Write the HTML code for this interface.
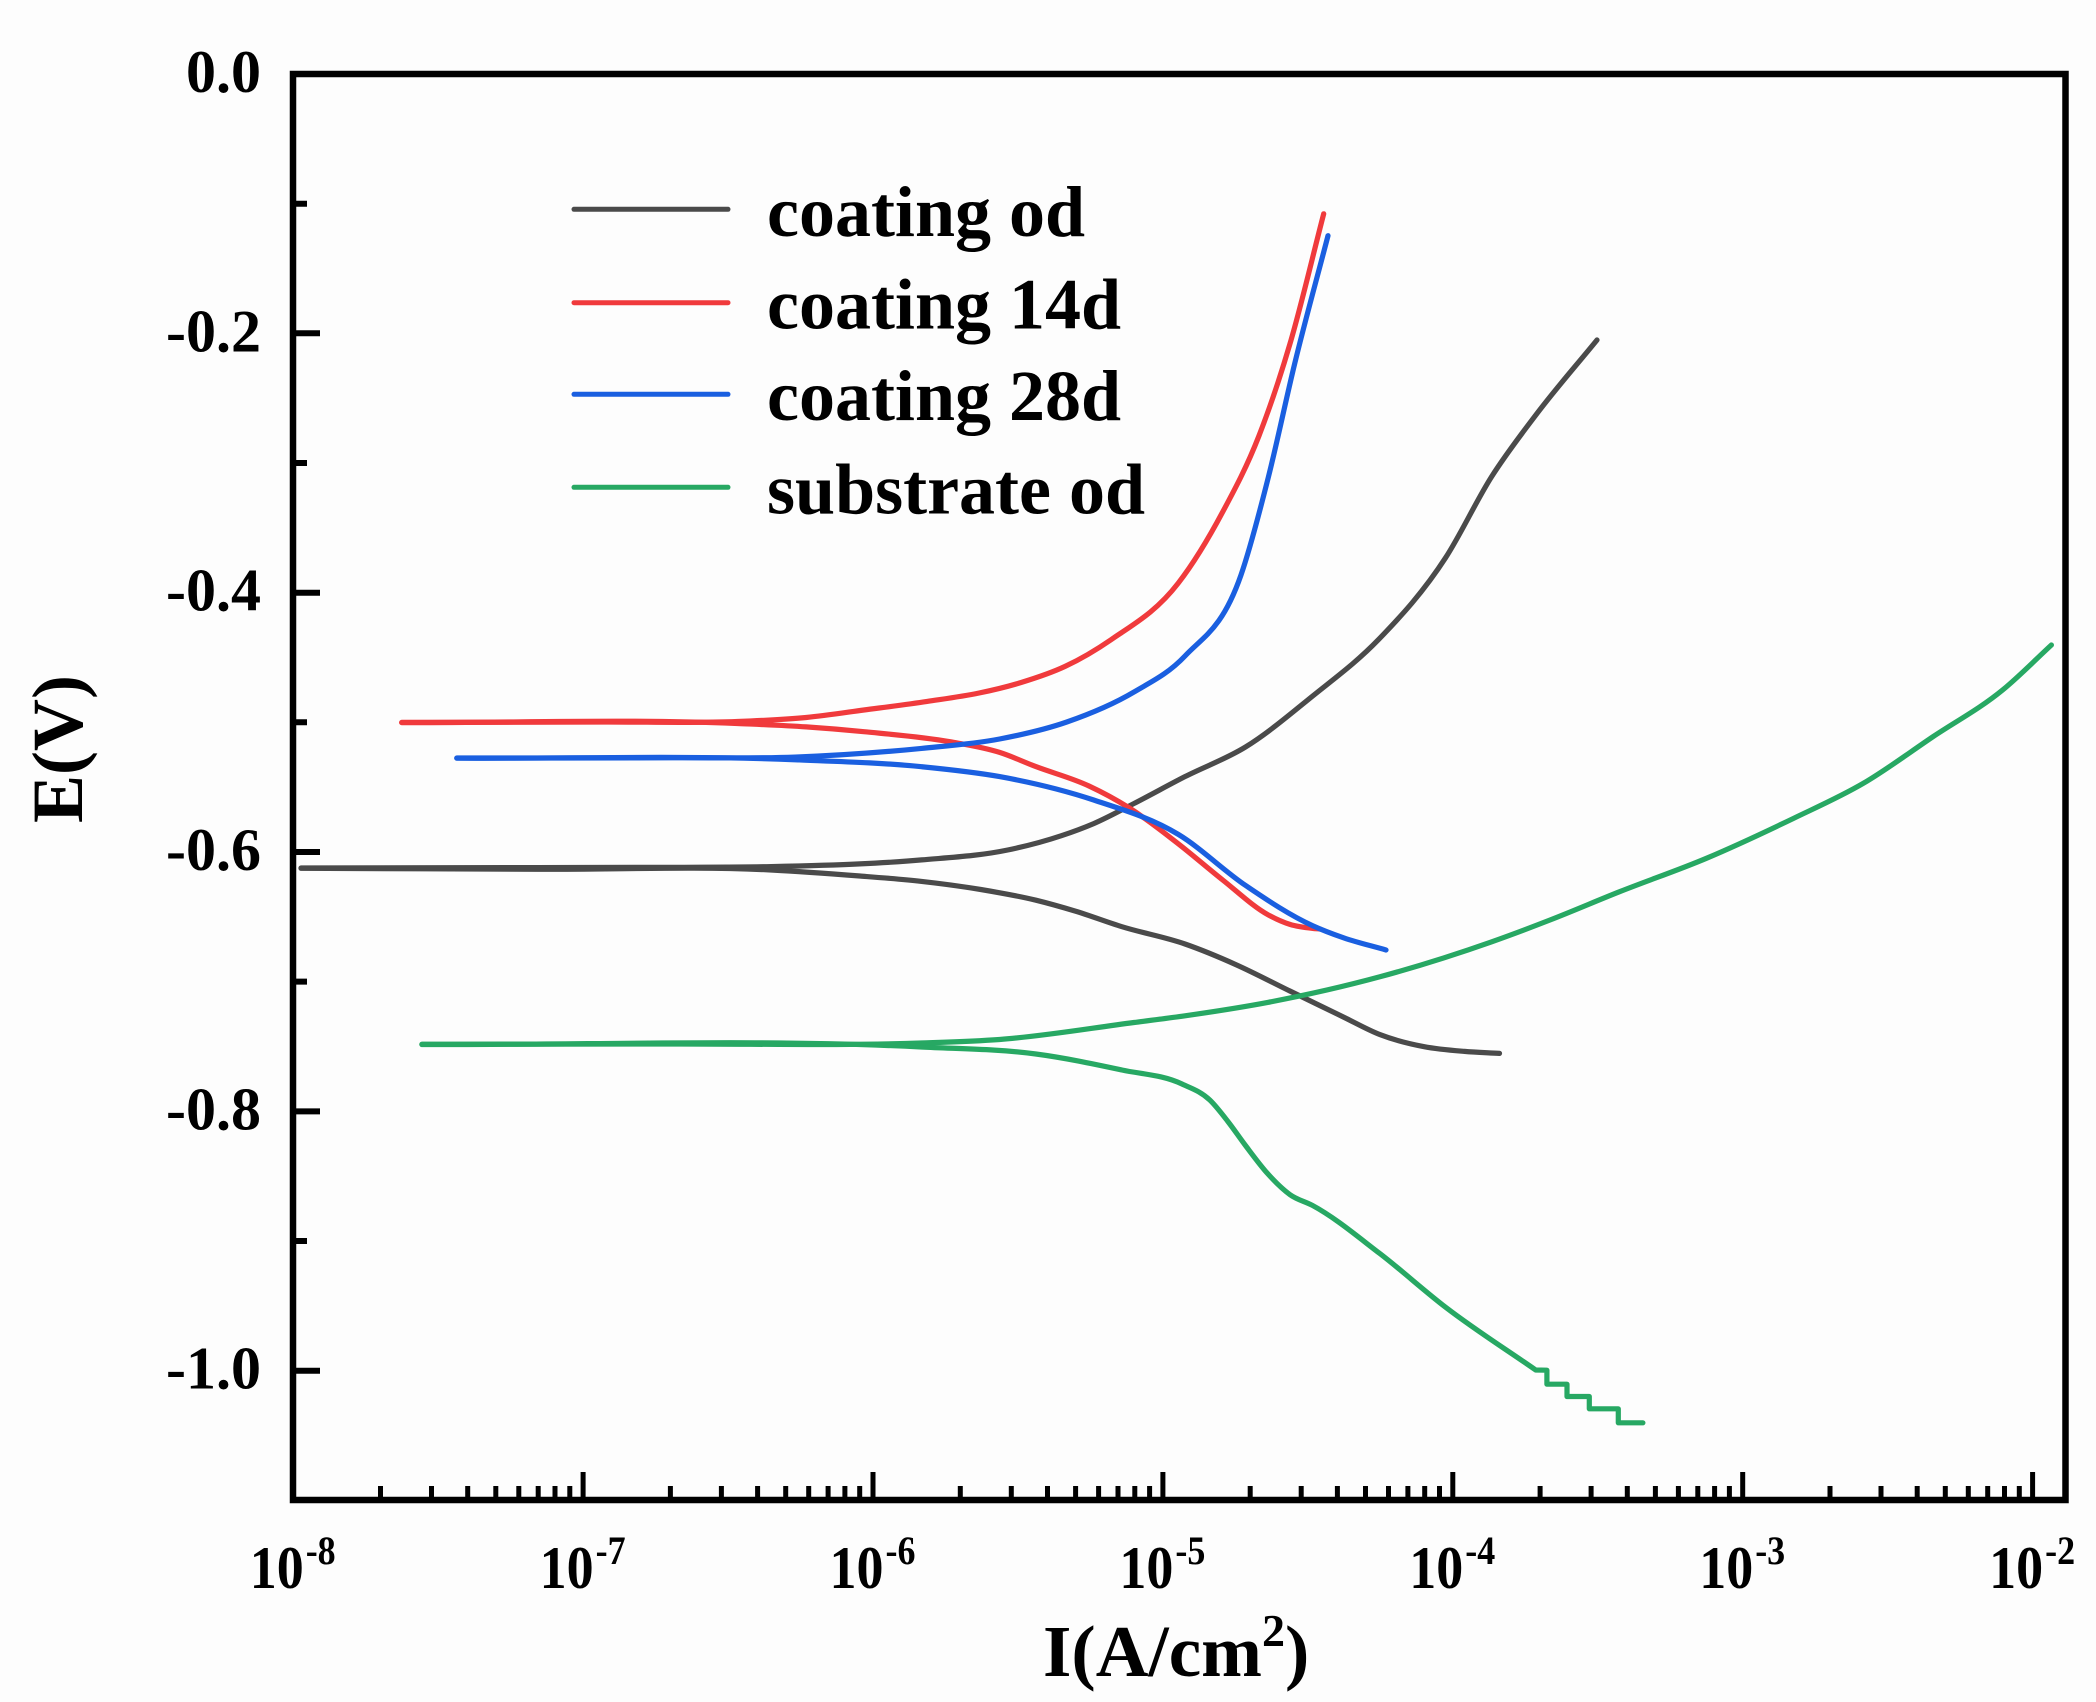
<!DOCTYPE html>
<html>
<head>
<meta charset="utf-8">
<style>
  html, body { margin: 0; padding: 0; background: #fdfdfd; }
  svg { display: block; }
  text { font-family: "Liberation Serif", "Times New Roman", serif; font-weight: bold; fill: #000; }
</style>
</head>
<body>
<svg width="2096" height="1702" viewBox="0 0 2096 1702" xmlns="http://www.w3.org/2000/svg">
  <rect x="0" y="0" width="2096" height="1702" fill="#fdfdfd"/>

  <!-- Series -->
  <g fill="none" stroke-width="5.2" stroke-linejoin="round" stroke-linecap="round">
    <path id="gc" stroke="#4a4a4a" d="M301,868.3 L537.4,869.3 771.2,870 859.9,876 921.7,881.4 980.8,889.5 1035.9,900.2 1074.9,911 1121.9,926.7 1185,944 1236.1,964.7 1289.9,991 1343.6,1017.1 1379.9,1034.6 1424.2,1046.7 1464.5,1051.4 1499.5,1053.4"/>
    <path id="ga" stroke="#4a4a4a" d="M301,868 L537.4,867.6 671.8,867.3 771.2,866.6 859.9,863.9 921.7,859.9 1007.7,850 1061.4,835.7 1093.7,823.6 1134,803.5 1185,776.6 1245.5,747 1312.7,696 1378.5,639.6 1445.7,557.6 1491.4,477 1535.7,415.2 1597,340"/>
    <path id="rc" stroke="#f03a3c" d="M401.7,722.6 L737.6,723.5 806.2,726.9 863.9,731.7 949.9,741.7 999.6,752.4 1035.9,766.6 1089,786 1128.6,807.5 1178.3,843.8 1222.7,880 1268.4,915 1289.9,924.4 1312.7,928.4 1320,929"/>
    <path id="ra" stroke="#f03a3c" d="M401.7,722.4 L604.6,722 737.6,721.5 806.2,717.5 863.9,710 927.1,701.4 979.1,693 1021.1,682.5 1065.1,666.4 1111.2,639.6 1178.3,583.1 1222.7,511.9 1258.9,436 1289.9,344 1323.7,213.8"/>
    <path id="bc" stroke="#1a5fe0" d="M456.8,758.2 L795,759.8 921.5,766.7 999.6,776.6 1093.7,800 1178.3,834.4 1245.5,885.4 1312.7,925.7 1343.6,937.8 1386,950"/>
    <path id="ba" stroke="#1a5fe0" d="M456.8,758 L671.8,757.8 795,757.1 921.5,748.4 999.6,739 1066.8,722 1134,692 1185,656 1241,575 1268.4,477 1294.6,364 1328,235.7"/>
    <path id="sc" stroke="#27a863" d="M421.9,1044.5 L921.5,1047 1035.9,1054 1121.9,1070 1182,1084 1209.8,1100 1227.6,1121.1 1245.5,1145.5 1267.8,1173.8 1290.1,1194.7 1312.4,1205.4 1379.9,1253.6 1445.7,1307.3 1535.7,1370 L1546.9,1370.2 1546.9,1384.2 1567,1384.2 1567,1396.5 1589.3,1396.5 1589.3,1408.8 1618.3,1408.8 1618.3,1422.8 1642.9,1422.8"/>
    <path id="sa" stroke="#27a863" d="M421.9,1044.2 L671.8,1044 921.5,1043 999.6,1039.5 1134,1022.5 1185,1015.8 1268.4,1002.3 1379.9,976.8 1491.4,941.9 1550,920 1619.6,891.7 1706.4,858.3 1793.7,818.3 1863.4,783.3 1933,736.7 2002.6,690 2051.4,645"/>
  </g>

  <!-- Axes frame -->
  <rect x="293" y="74" width="1772.5" height="1426" fill="none" stroke="#000" stroke-width="6.5"/>

  <!-- Y ticks -->
  <g stroke="#000" stroke-width="6">
    <path d="M293,333.3H320 M293,592.7H320 M293,852H320 M293,1111.4H320 M293,1370.7H320"/>
    <path d="M293,203.7H307 M293,463H307 M293,722.3H307 M293,981.6H307 M293,1241H307"/>
  </g>

  <!-- X ticks -->
  <g stroke="#000" stroke-width="5">
    <path d="M583.1,1500V1472 M873,1500V1472 M1162.9,1500V1472 M1452.8,1500V1472 M1742.7,1500V1472 M2032.6,1500V1472"/>
    <path d="M380.5,1500V1486 M431.5,1500V1486 M467.7,1500V1486 M495.8,1500V1486 M518.8,1500V1486 M538.2,1500V1486 M555,1500V1486 M569.8,1500V1486
             M670.4,1500V1486 M721.4,1500V1486 M757.6,1500V1486 M785.7,1500V1486 M808.7,1500V1486 M828.1,1500V1486 M844.9,1500V1486 M859.7,1500V1486
             M960.3,1500V1486 M1011.3,1500V1486 M1047.5,1500V1486 M1075.6,1500V1486 M1098.6,1500V1486 M1118,1500V1486 M1134.8,1500V1486 M1149.6,1500V1486
             M1250.2,1500V1486 M1301.2,1500V1486 M1337.4,1500V1486 M1365.5,1500V1486 M1388.5,1500V1486 M1407.9,1500V1486 M1424.7,1500V1486 M1439.5,1500V1486
             M1540.1,1500V1486 M1591.1,1500V1486 M1627.3,1500V1486 M1655.4,1500V1486 M1678.4,1500V1486 M1697.8,1500V1486 M1714.6,1500V1486 M1729.4,1500V1486
             M1830,1500V1486 M1881,1500V1486 M1917.2,1500V1486 M1945.3,1500V1486 M1968.3,1500V1486 M1987.7,1500V1486 M2004.5,1500V1486 M2019.3,1500V1486"/>
  </g>

  <!-- Y tick labels -->
  <g font-size="60" text-anchor="end">
    <text x="261" y="92">0.0</text>
    <text x="261" y="351.3">-0.2</text>
    <text x="261" y="610.7">-0.4</text>
    <text x="261" y="870">-0.6</text>
    <text x="261" y="1129.4">-0.8</text>
    <text x="261" y="1388.7">-1.0</text>
  </g>

  <!-- X tick labels -->
  <g>
    <text x="249.7" y="1588" font-size="60" textLength="54" lengthAdjust="spacingAndGlyphs">10</text>
    <text x="305.7" y="1564" font-size="40" textLength="30" lengthAdjust="spacingAndGlyphs">-8</text>
    <text x="539.6" y="1588" font-size="60" textLength="54" lengthAdjust="spacingAndGlyphs">10</text>
    <text x="595.6" y="1564" font-size="40" textLength="30" lengthAdjust="spacingAndGlyphs">-7</text>
    <text x="829.5" y="1588" font-size="60" textLength="54" lengthAdjust="spacingAndGlyphs">10</text>
    <text x="885.5" y="1564" font-size="40" textLength="30" lengthAdjust="spacingAndGlyphs">-6</text>
    <text x="1119.4" y="1588" font-size="60" textLength="54" lengthAdjust="spacingAndGlyphs">10</text>
    <text x="1175.4" y="1564" font-size="40" textLength="30" lengthAdjust="spacingAndGlyphs">-5</text>
    <text x="1409.3" y="1588" font-size="60" textLength="54" lengthAdjust="spacingAndGlyphs">10</text>
    <text x="1465.3" y="1564" font-size="40" textLength="30" lengthAdjust="spacingAndGlyphs">-4</text>
    <text x="1699.2" y="1588" font-size="60" textLength="54" lengthAdjust="spacingAndGlyphs">10</text>
    <text x="1755.2" y="1564" font-size="40" textLength="30" lengthAdjust="spacingAndGlyphs">-3</text>
    <text x="1989.1" y="1588" font-size="60" textLength="54" lengthAdjust="spacingAndGlyphs">10</text>
    <text x="2045.1" y="1564" font-size="40" textLength="30" lengthAdjust="spacingAndGlyphs">-2</text>
  </g>

  <!-- Axis titles -->
  <text x="1043" y="1676" font-size="73">I(A/cm<tspan font-size="46" dy="-30">2</tspan><tspan font-size="73" dy="30">)</tspan></text>
  <text transform="translate(82,749) rotate(-90)" text-anchor="middle" font-size="72">E(V)</text>

  <!-- Legend -->
  <g stroke-width="5" stroke-linecap="round">
    <line x1="574" y1="209.3" x2="728" y2="209.3" stroke="#4a4a4a"/>
    <line x1="574" y1="302.7" x2="728" y2="302.7" stroke="#f03a3c"/>
    <line x1="574" y1="394.3" x2="728" y2="394.3" stroke="#1a5fe0"/>
    <line x1="574" y1="487.3" x2="728" y2="487.3" stroke="#27a863"/>
  </g>
  <g font-size="72">
    <text x="767" y="236">coating od</text>
    <text x="767" y="328.3">coating 14d</text>
    <text x="767" y="420">coating 28d</text>
    <text x="767" y="513.3">substrate od</text>
  </g>
</svg>
<script>
(function(){
  function parse(d){
    var nums = d.replace(/[ML]/g,' ').trim().split(/[\s,]+/).map(Number);
    var pts=[]; for(var i=0;i+1<nums.length;i+=2) pts.push([nums[i],nums[i+1]]);
    return pts;
  }
  // Cubic Hermite in x with non-uniform finite-difference slopes
  function smooth(p){
    var n=p.length, m=[];
    for(var i=0;i<n;i++){
      if(i===0) m.push((p[1][1]-p[0][1])/(p[1][0]-p[0][0]));
      else if(i===n-1) m.push((p[n-1][1]-p[n-2][1])/(p[n-1][0]-p[n-2][0]));
      else {
        var s0=(p[i][1]-p[i-1][1])/(p[i][0]-p[i-1][0]);
        var s1=(p[i+1][1]-p[i][1])/(p[i+1][0]-p[i][0]);
        var h0=p[i][0]-p[i-1][0], h1=p[i+1][0]-p[i][0];
        m.push((s0*h1+s1*h0)/(h0+h1));
      }
    }
    var s='M'+p[0][0].toFixed(1)+','+p[0][1].toFixed(1);
    for(var k=0;k<n-1;k++){
      var h=p[k+1][0]-p[k][0];
      var c1x=p[k][0]+h/3, c1y=p[k][1]+m[k]*h/3;
      var c2x=p[k+1][0]-h/3, c2y=p[k+1][1]-m[k+1]*h/3;
      s+=' C'+c1x.toFixed(1)+','+c1y.toFixed(1)+' '+c2x.toFixed(1)+','+c2y.toFixed(1)+' '+p[k+1][0].toFixed(1)+','+p[k+1][1].toFixed(1);
    }
    return s;
  }
  try{
    ['gc','ga','rc','ra','bc','ba','sa'].forEach(function(id){
      var el=document.getElementById(id); if(!el) return;
      el.setAttribute('d', smooth(parse(el.getAttribute('d'))));
    });
    var sc=document.getElementById('sc');
    if(sc){
      var pts=parse(sc.getAttribute('d'));
      var n=14;
      var main=pts.slice(0,n), stairs=pts.slice(n);
      var d=smooth(main);
      stairs.forEach(function(q){ d+=' L'+q[0]+','+q[1]; });
      sc.setAttribute('d', d);
    }
  }catch(e){}
})();
</script>
</body>
</html>
